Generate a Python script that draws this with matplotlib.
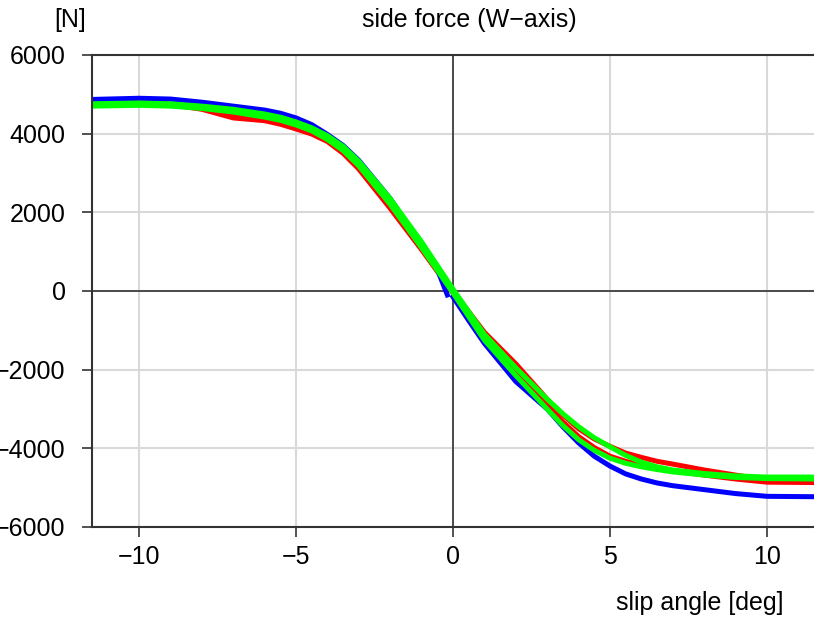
import matplotlib
matplotlib.use("Agg")
import matplotlib.pyplot as plt

plt.rcParams['font.family'] = ['Liberation Sans', 'DejaVu Sans']

# slip angle grid [deg]
slip = [-11.5, -10, -9, -8, -7, -6, -5.5, -5, -4.5, -4, -3.5, -3, -2, -1, 0,
        1, 2, 3, 3.5, 4, 4.5, 5, 5.5, 6, 6.5, 7, 8, 9, 10, 11.5]

# side force [N], two sweep branches per run
red_a = [4780, 4800, 4750, 4650, 4480, 4380, 4280, 4150, 4020, 3850, 3550, 3150, 2150, 1100, 0,
         -1050, -1850, -2750, -3150, -3500, -3760, -3950, -4120, -4230, -4330, -4400, -4550, -4680, -4800, -4850]
red_b = [4800, 4790, 4740, 4620, 4400, 4330, 4240, 4120, 3990, 3800, 3500, 3100, 2100, 1050, -50,
         -1150, -2000, -2900, -3330, -3700, -3980, -4200, -4330, -4420, -4500, -4570, -4680, -4780, -4860, -4870]

green_a = [4760, 4780, 4760, 4700, 4620, 4500, 4420, 4300, 4150, 3950, 3680, 3300, 2350, 1250, 50,
           -1100, -1950, -2750, -3120, -3450, -3730, -3960, -4180, -4350, -4470, -4550, -4640, -4700, -4730, -4730]
green_b = [4700, 4720, 4700, 4640, 4550, 4420, 4340, 4220, 4070, 3850, 3570, 3180, 2200, 1100, -50,
           -1250, -2150, -3000, -3420, -3780, -4050, -4250, -4380, -4470, -4540, -4600, -4680, -4740, -4770, -4780]

blue_neg_x = [-11.5, -10, -9, -8, -7, -6, -5.5, -5, -4.5, -4, -3.5, -3, -2, -1, -0.5, -0.18]
blue_neg = [4870, 4900, 4880, 4800, 4700, 4600, 4520, 4400, 4230, 3980, 3700, 3320, 2350, 1150, 550, -100]
blue_pos_x = [0, 0.5, 1, 2, 3, 3.5, 4, 4.5, 5, 5.5, 6, 6.5, 7, 8, 9, 10, 11.5]
blue_pos = [-150, -750, -1330, -2300, -3000, -3450, -3860, -4200, -4450, -4650, -4780, -4880, -4950, -5050, -5150, -5220, -5230]

fig = plt.figure(figsize=(8.14, 6.2), dpi=100)
ax = fig.add_axes([0.113, 0.15, 0.887, 0.7613])

lw = 3.6
ax.plot(slip, red_b, color='#ff0000', lw=lw, solid_joinstyle='round')
ax.plot(slip, red_a, color='#ff0000', lw=lw, solid_joinstyle='round')
ax.plot(blue_neg_x, blue_neg, color='#0000ff', lw=lw, solid_joinstyle='round')
ax.plot(blue_pos_x, blue_pos, color='#0000ff', lw=lw, solid_joinstyle='round')
ax.plot(slip, green_b, color='#00ff00', lw=lw, solid_joinstyle='round')
ax.plot(slip, green_a, color='#00ff00', lw=lw, solid_joinstyle='round')

ax.axhline(0, color='#333333', lw=1.2, zorder=1)
ax.axvline(0, color='#333333', lw=1.2, zorder=1)

ax.set_xlim(-11.5, 11.5)
ax.set_ylim(-6000, 6000)
ax.set_xticks([-10, -5, 0, 5, 10])
ax.set_yticks([-6000, -4000, -2000, 0, 2000, 4000, 6000])
ax.grid(True, color='#d9d9d9', lw=1.5, zorder=0)
ax.set_axisbelow(True)

for s in ['top', 'bottom', 'left']:
    ax.spines[s].set_color('#333333')
    ax.spines[s].set_linewidth(1.5)
ax.spines['right'].set_visible(False)
ax.tick_params(direction='out', length=7, width=1.2, color='#333333', labelsize=18)
ax.tick_params(axis='y', pad=12)
ax.tick_params(axis='x', pad=6)

fig.text(0.086, 0.967, '[N]', ha='center', va='center', fontsize=18)
fig.text(0.577, 0.967, 'side force (W\u2212axis)', ha='center', va='center', fontsize=18)
fig.text(0.962, 0.027, 'slip angle [deg]', ha='right', va='center', fontsize=18)

fig.savefig('out.png', dpi=100)
